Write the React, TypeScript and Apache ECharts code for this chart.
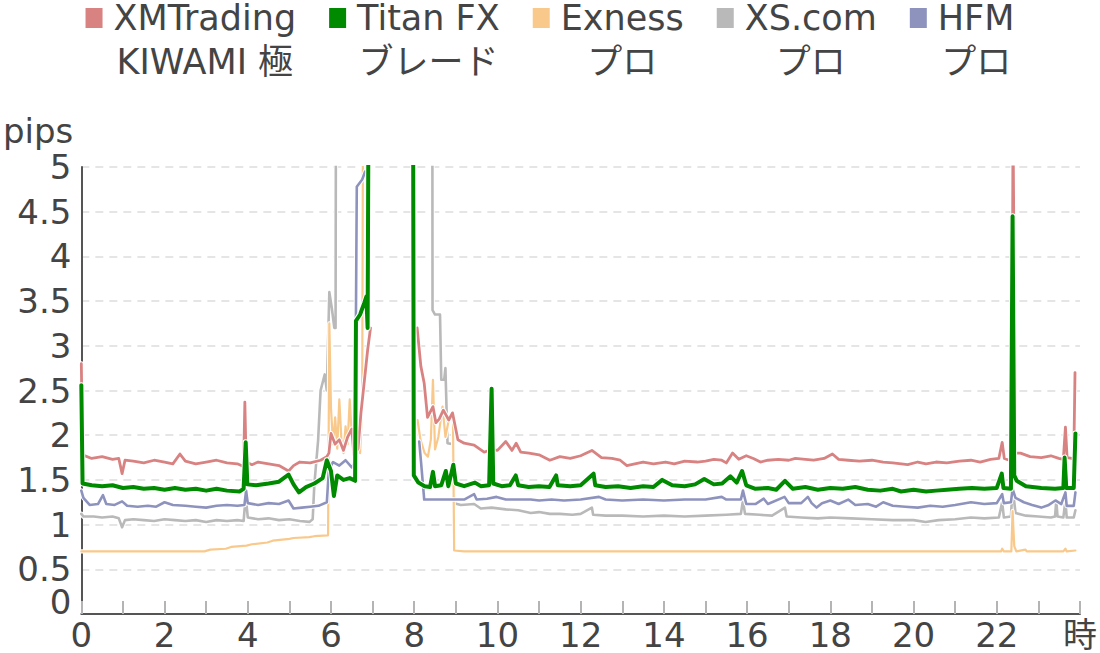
import React, { useEffect, useRef } from 'react';
import * as echarts from 'echarts';

const FONT = "'DejaVu Sans', 'Noto Sans CJK JP', sans-serif";
const TEXT = '#444444';

const seriesNames = ['XMTrading\nKIWAMI 極', 'Titan FX\nブレード', 'Exness\nプロ', 'XS.com\nプロ', 'HFM\nプロ'];
const seriesColors = ['#d98282', '#008a00', '#f9c98b', '#b9b9b9', '#8e93bd'];
const seriesWidths = [2.8, 4, 2.2, 2.6, 2.6];
const seriesZ = [6, 10, 4, 2, 8];

const yTicks = [0, 0.5, 1, 1.5, 2, 2.5, 3, 3.5, 4, 4.5, 5];
const hourUnit = '時';

// [hour, pips]
const xmTrading: (number | null)[][] = [
  [0, 2.8], [0.03, 1.78], [0.25, 1.74], [0.5, 1.76], [0.75, 1.73], [0.9, 1.74], [0.98, 1.57], [1.05, 1.72],
  [1.25, 1.71], [1.5, 1.69], [1.75, 1.72], [2.0, 1.7], [2.2, 1.68], [2.37, 1.79], [2.5, 1.71], [2.75, 1.68],
  [3.0, 1.7], [3.25, 1.72], [3.5, 1.69], [3.75, 1.68], [3.9, 1.65], [3.93, 2.37], [3.96, 1.7], [4.1, 1.67],
  [4.25, 1.7], [4.5, 1.68], [4.75, 1.66], [4.98, 1.6], [5.1, 1.66], [5.25, 1.7], [5.5, 1.69], [5.75, 1.72],
  [5.9, 1.76], [5.95, 1.8], [6.0, 2.02], [6.1, 1.9], [6.2, 1.95], [6.3, 1.83], [6.4, 1.98], [6.5, 2.07],
  [6.55, 1.78], [6.65, 1.85], [6.72, 2.25], [6.8, 2.6], [6.88, 2.95], [6.95, 3.2], [7.0, null],
  [8.07, 3.2], [8.16, 2.77], [8.24, 2.58], [8.32, 2.2], [8.45, 2.32], [8.52, 2.14], [8.6, 2.18], [8.7, 2.28],
  [8.83, 2.17], [8.92, 2.25], [9.05, 1.95], [9.2, 1.91], [9.44, 1.89], [9.68, 1.81], [9.85, 1.84], [10.0, 1.83],
  [10.2, 1.93], [10.35, 1.83], [10.45, 1.91], [10.56, 1.81], [10.76, 1.8], [11.0, 1.78], [11.26, 1.72], [11.5, 1.76],
  [11.75, 1.74], [12.0, 1.77], [12.27, 1.83], [12.5, 1.75], [12.75, 1.74], [12.95, 1.72], [13.11, 1.66], [13.3, 1.68],
  [13.5, 1.7], [13.75, 1.68], [14.04, 1.7], [14.25, 1.68], [14.5, 1.71], [14.8, 1.7], [15.0, 1.71], [15.2, 1.73],
  [15.39, 1.72], [15.5, 1.69], [15.65, 1.8], [15.8, 1.73], [15.98, 1.77], [16.15, 1.74], [16.32, 1.7], [16.5, 1.72],
  [16.75, 1.73], [17.0, 1.72], [17.16, 1.74], [17.4, 1.73], [17.6, 1.72], [17.85, 1.74], [18.05, 1.79], [18.2, 1.73],
  [18.43, 1.72], [18.7, 1.71], [19.0, 1.72], [19.27, 1.7], [19.5, 1.69], [19.86, 1.67], [20.1, 1.7], [20.3, 1.68],
  [20.54, 1.7], [20.8, 1.69], [21.1, 1.71], [21.38, 1.72], [21.6, 1.7], [21.85, 1.73], [22.05, 1.74], [22.13, 1.92],
  [22.18, 1.74], [22.3, 1.72], [22.36, 1.7], [22.39, 5.5], [22.45, 1.8], [22.57, 1.8], [22.8, 1.76], [23.07, 1.75],
  [23.3, 1.77], [23.49, 1.74], [23.6, 1.73], [23.65, 2.09], [23.69, 1.75], [23.8, 1.74], [23.85, 1.73], [23.88, 2.7],
];

const titanFx: (number | null)[][] = [
  [0, 2.56], [0.03, 1.46], [0.25, 1.44], [0.5, 1.43], [0.75, 1.44], [1.0, 1.41], [1.25, 1.42], [1.5, 1.4],
  [1.75, 1.41], [2.0, 1.39], [2.25, 1.41], [2.5, 1.39], [2.75, 1.4], [3.0, 1.38], [3.25, 1.4], [3.5, 1.38],
  [3.8, 1.37], [3.9, 1.4], [3.95, 1.92], [3.99, 1.45], [4.2, 1.44], [4.5, 1.46], [4.75, 1.48], [4.98, 1.56],
  [5.1, 1.45], [5.23, 1.36], [5.4, 1.42], [5.6, 1.46], [5.8, 1.52], [5.9, 1.72], [6.0, 1.6], [6.07, 1.32],
  [6.15, 1.55], [6.3, 1.5], [6.45, 1.52], [6.58, 1.49], [6.6, 3.28], [6.7, 3.35], [6.8, 3.48], [6.85, 3.55],
  [6.88, 3.2], [6.93, 9], [7.96, 9], [7.99, 1.55], [8.1, 1.47], [8.25, 1.43], [8.38, 1.42], [8.45, 1.59],
  [8.5, 1.43], [8.65, 1.44], [8.76, 1.6], [8.82, 1.43], [8.94, 1.67], [9.0, 1.46], [9.2, 1.43], [9.46, 1.47],
  [9.6, 1.43], [9.8, 1.44], [9.86, 2.52], [9.9, 1.46], [10.1, 1.43], [10.3, 1.44], [10.44, 1.55], [10.5, 1.44],
  [10.75, 1.42], [11.0, 1.43], [11.25, 1.42], [11.41, 1.55], [11.45, 1.44], [11.75, 1.43], [12.0, 1.44], [12.31, 1.57],
  [12.35, 1.44], [12.6, 1.42], [12.9, 1.43], [13.2, 1.41], [13.5, 1.43], [13.75, 1.42], [13.96, 1.5], [14.2, 1.44],
  [14.5, 1.43], [14.75, 1.45], [14.97, 1.51], [15.2, 1.45], [15.4, 1.46], [15.6, 1.54], [15.75, 1.47], [15.88, 1.6],
  [15.98, 1.44], [16.2, 1.4], [16.5, 1.41], [16.7, 1.39], [16.91, 1.49], [17.1, 1.4], [17.4, 1.42], [17.7, 1.39],
  [18.0, 1.41], [18.3, 1.4], [18.6, 1.42], [18.9, 1.39], [19.2, 1.38], [19.5, 1.4], [19.7, 1.37], [20.0, 1.39],
  [20.3, 1.37], [20.54, 1.38], [20.8, 1.39], [21.1, 1.4], [21.4, 1.41], [21.7, 1.4], [22.0, 1.41], [22.12, 1.57],
  [22.16, 1.41], [22.34, 1.4], [22.38, 4.45], [22.42, 1.55], [22.48, 1.49], [22.7, 1.43], [23.07, 1.41], [23.4, 1.4],
  [23.6, 1.41], [23.63, 1.75], [23.67, 1.41], [23.85, 1.41], [23.89, 2.02],
];

const exness: (number | null)[][] = [
  [0, 0.7], [0.5, 0.7], [1.0, 0.7], [1.5, 0.7], [2.0, 0.7], [2.5, 0.7], [2.96, 0.7], [3.1, 0.72],
  [3.47, 0.73], [3.6, 0.75], [3.97, 0.765], [4.1, 0.78], [4.47, 0.8], [4.6, 0.82], [5.0, 0.84], [5.1, 0.85],
  [5.48, 0.86], [5.6, 0.87], [5.93, 0.88], [5.96, 3.25], [6.0, 2.3], [6.05, 1.9], [6.1, 2.2], [6.15, 1.85],
  [6.2, 2.4], [6.25, 1.95], [6.3, 1.8], [6.35, 2.1], [6.4, 1.9], [6.45, 2.4], [6.5, 2.0], [6.55, 1.85],
  [6.6, 2.2], [6.7, 1.8], [6.75, 2.4], [6.79, 9], [6.85, null],
  [8.08, 2.17], [8.15, 1.95], [8.25, 1.8], [8.33, 1.76], [8.4, 1.95], [8.45, 2.62], [8.5, 1.84], [8.58, 1.98],
  [8.68, 2.32], [8.75, 1.98], [8.83, 2.17], [8.93, 2.25], [8.96, 0.71], [9.2, 0.7], [10.0, 0.7], [11.0, 0.7],
  [12.0, 0.7], [13.0, 0.7], [14.0, 0.7], [15.0, 0.7], [16.0, 0.7], [17.0, 0.7], [18.0, 0.7], [19.0, 0.7],
  [20.0, 0.7], [21.0, 0.7], [22.1, 0.7], [22.13, 0.73], [22.17, 0.7], [22.35, 0.7], [22.38, 1.15], [22.42, 0.76],
  [22.47, 0.7], [22.69, 0.72], [22.72, 0.7], [23.6, 0.7], [23.65, 0.73], [23.68, 0.7], [23.89, 0.71],
];

const xsCom: (number | null)[][] = [
  [0, 1.12], [0.05, 1.09], [0.3, 1.09], [0.5, 1.08], [0.75, 1.09], [0.9, 1.07], [0.98, 0.97], [1.05, 1.05],
  [1.25, 1.06], [1.5, 1.05], [1.75, 1.04], [2.0, 1.06], [2.25, 1.05], [2.5, 1.04], [2.75, 1.05], [3.0, 1.03],
  [3.25, 1.05], [3.5, 1.04], [3.75, 1.05], [3.9, 1.04], [3.95, 1.32], [4.0, 1.08], [4.25, 1.06], [4.5, 1.07],
  [4.75, 1.05], [5.0, 1.06], [5.25, 1.04], [5.48, 1.03], [5.56, 1.06], [5.6, 1.45], [5.69, 1.94], [5.75, 2.5],
  [5.85, 2.68], [5.9, 2.5], [5.96, 3.6], [6.02, 3.42], [6.08, 3.2], [6.11, 3.2], [6.13, 9], [8.43, 9],
  [8.44, 3.4], [8.5, 3.35], [8.62, 3.35], [8.65, 2.62], [8.72, 2.62], [8.75, 2.75], [8.8, 1.91], [8.93, 1.9],
  [8.96, 1.24], [9.12, 1.22], [9.44, 1.23], [9.6, 1.18], [9.86, 1.19], [10.2, 1.17], [10.5, 1.16], [10.8, 1.13],
  [11.0, 1.14], [11.26, 1.12], [11.5, 1.12], [11.8, 1.11], [12.0, 1.12], [12.27, 1.19], [12.3, 1.11], [12.6, 1.1],
  [13.0, 1.1], [13.5, 1.09], [14.0, 1.1], [14.5, 1.09], [15.0, 1.1], [15.5, 1.11], [15.85, 1.12], [15.9, 1.27],
  [15.95, 1.12], [16.3, 1.11], [16.6, 1.1], [16.91, 1.19], [16.95, 1.09], [17.3, 1.08], [17.7, 1.07], [18.0, 1.08],
  [18.5, 1.07], [19.0, 1.06], [19.5, 1.05], [20.0, 1.05], [20.29, 1.03], [20.6, 1.05], [21.0, 1.06], [21.38, 1.08],
  [21.7, 1.07], [22.05, 1.08], [22.13, 1.25], [22.17, 1.08], [22.34, 1.09], [22.38, 1.42], [22.45, 1.13], [22.7, 1.1],
  [23.0, 1.09], [23.3, 1.08], [23.4, 1.09], [23.43, 1.27], [23.46, 1.09], [23.6, 1.08], [23.65, 1.27], [23.68, 1.08],
  [23.85, 1.08], [23.89, 1.16],
];

const hfm: (number | null)[][] = [
  [0, 1.38], [0.05, 1.3], [0.2, 1.22], [0.4, 1.23], [0.52, 1.33], [0.6, 1.23], [0.8, 1.22], [0.98, 1.26],
  [1.1, 1.21], [1.35, 1.2], [1.6, 1.21], [1.8, 1.2], [2.0, 1.25], [2.2, 1.22], [2.5, 1.21], [2.75, 1.2],
  [3.0, 1.19], [3.25, 1.21], [3.5, 1.22], [3.75, 1.21], [3.92, 1.22], [3.96, 1.38], [4.0, 1.24], [4.25, 1.22],
  [4.5, 1.24], [4.75, 1.23], [4.98, 1.27], [5.1, 1.18], [5.3, 1.19], [5.5, 1.2], [5.7, 1.21], [5.9, 1.25],
  [5.95, 1.62], [6.05, 1.7], [6.2, 1.66], [6.35, 1.72], [6.5, 1.64], [6.58, 1.7], [6.6, 3.37], [6.62, 4.78],
  [6.75, 4.86], [6.82, 4.95], [6.86, null],
  [8.12, 1.93], [8.16, 1.72], [8.24, 1.28], [8.5, 1.28], [8.75, 1.28], [9.0, 1.28], [9.2, 1.28], [9.44, 1.34],
  [9.5, 1.28], [9.75, 1.29], [9.98, 1.31], [10.2, 1.28], [10.5, 1.28], [10.8, 1.28], [11.0, 1.27], [11.3, 1.28],
  [11.6, 1.27], [12.0, 1.28], [12.44, 1.31], [12.6, 1.28], [13.0, 1.27], [13.5, 1.28], [14.0, 1.27], [14.5, 1.28],
  [15.0, 1.28], [15.39, 1.31], [15.5, 1.28], [15.85, 1.28], [15.9, 1.38], [15.98, 1.23], [16.2, 1.23], [16.4, 1.29],
  [16.5, 1.23], [16.9, 1.31], [17.0, 1.24], [17.3, 1.24], [17.46, 1.31], [17.55, 1.24], [17.67, 1.19], [17.8, 1.24],
  [18.0, 1.27], [18.2, 1.23], [18.43, 1.28], [18.6, 1.22], [18.9, 1.23], [19.1, 1.2], [19.27, 1.25], [19.5, 1.21],
  [19.8, 1.2], [20.1, 1.19], [20.4, 1.21], [20.7, 1.2], [21.0, 1.22], [21.38, 1.25], [21.7, 1.23], [22.0, 1.24],
  [22.13, 1.34], [22.17, 1.24], [22.34, 1.25], [22.38, 1.4], [22.45, 1.3], [22.65, 1.25], [22.85, 1.22], [23.07, 1.19],
  [23.25, 1.22], [23.41, 1.27], [23.55, 1.23], [23.65, 1.36], [23.68, 1.21], [23.85, 1.21], [23.89, 1.36],
];

const seriesData = [xmTrading, titanFx, exness, xsCom, hfm];

const LEGEND_ICON = 'path://M0,0L17,0L17,20L0,20Z M23,64L23,64Z';

export default function App() {
  const ref = useRef<HTMLDivElement>(null);
  useEffect(() => {
    const chart = echarts.init(ref.current!, null, { renderer: 'svg' });
    const colored = seriesNames.map((name, i) => ({
      name,
      type: 'line',
      data: seriesData[i],
      showSymbol: false,
      symbol: 'none',
      z: seriesZ[i],
      clip: true,
      connectNulls: false,
      color: seriesColors[i],
      itemStyle: { color: seriesColors[i] },
      lineStyle: { color: seriesColors[i], width: seriesWidths[i], join: 'round', cap: 'round' },
    }));
    const halos = seriesNames.map((name, i) => ({
      name: `halo-${i}`,
      type: 'line',
      data: seriesData[i],
      showSymbol: false,
      symbol: 'none',
      z: seriesZ[i] - 1,
      clip: true,
      connectNulls: false,
      silent: true,
      color: '#ffffff',
      lineStyle: { color: '#ffffff', width: seriesWidths[i] + 2, join: 'round', cap: 'round' },
    }));
    const yMin = yTicks[0];
    const yMax = yTicks[yTicks.length - 1];
    const option: any = {
      animation: false,
      backgroundColor: '#ffffff',
      textStyle: { fontFamily: FONT },
      legend: {
        top: -4,
        left: 'center',
        padding: 0,
        itemGap: 33,
        itemWidth: 23,
        itemHeight: 64,
        icon: LEGEND_ICON,
        itemStyle: { borderWidth: 0 },
        selectedMode: false,
        data: seriesNames,
        formatter: (name: string) => name.split('\n').map((s) => `{c|${s}}`).join('\n'),
        textStyle: {
          color: TEXT,
          fontSize: 35,
          fontFamily: FONT,
          lineHeight: 44,
          rich: { c: { align: 'center', color: TEXT, fontSize: 35, lineHeight: 44, fontFamily: FONT } },
        },
      },
      grid: { left: 80, right: 20, top: 167, bottom: 39, containLabel: false },
      xAxis: {
        type: 'value',
        min: 0,
        max: 24,
        interval: 1,
        axisLine: { show: true, lineStyle: { color: '#555555', width: 2 } },
        axisTick: { show: true, inside: true, length: 13, lineStyle: { color: '#b4b4b4', width: 2 } },
        splitLine: { show: false },
        axisLabel: {
          margin: 7,
          lineHeight: 28,
          color: TEXT,
          fontSize: 34,
          fontFamily: FONT,
          showMinLabel: true,
          showMaxLabel: true,
          formatter: (v: number) => (v === 24 ? hourUnit : v % 2 === 0 ? String(v) : ''),
        },
      },
      yAxis: [
        {
          type: 'value',
          min: yMin,
          max: yMax,
          interval: 0.5,
          name: 'pips',
          nameLocation: 'end',
          nameGap: 21,
          nameTextStyle: {
            color: TEXT, fontSize: 34, fontFamily: FONT, lineHeight: 30,
            align: 'right', verticalAlign: 'bottom', padding: [0, 8, 0, 0],
          },
          axisLine: { show: true, lineStyle: { color: '#555555', width: 2 } },
          axisTick: { show: false },
          splitLine: { show: true, lineStyle: { color: '#dddddd', width: 1.5, type: [8, 6] } },
          axisLabel: {
            margin: 10,
            lineHeight: 32,
            color: TEXT,
            fontSize: 34,
            fontFamily: FONT,
            showMinLabel: false,
            showMaxLabel: true,
          },
        },
        {
          // carries only the "0" label, nudged up off the x axis as in the reference
          type: 'value',
          position: 'left',
          min: yMin,
          max: yMax,
          interval: 0.5,
          axisLine: { show: false },
          axisTick: { show: false },
          splitLine: { show: false },
          axisLabel: {
            margin: 10,
            color: TEXT,
            fontSize: 34,
            fontFamily: FONT,
            showMinLabel: true,
            showMaxLabel: false,
            lineHeight: 24,
            formatter: (v: number) => (v === yMin ? `${v}\n` : ''),
          },
        },
      ],
      series: [...halos, ...colored],
    };
    chart.setOption(option);
    return () => chart.dispose();
  }, []);
  return <div ref={ref} style={{ position: 'absolute', left: 0, top: 0, width: 1100, height: 653 }} />;
}
